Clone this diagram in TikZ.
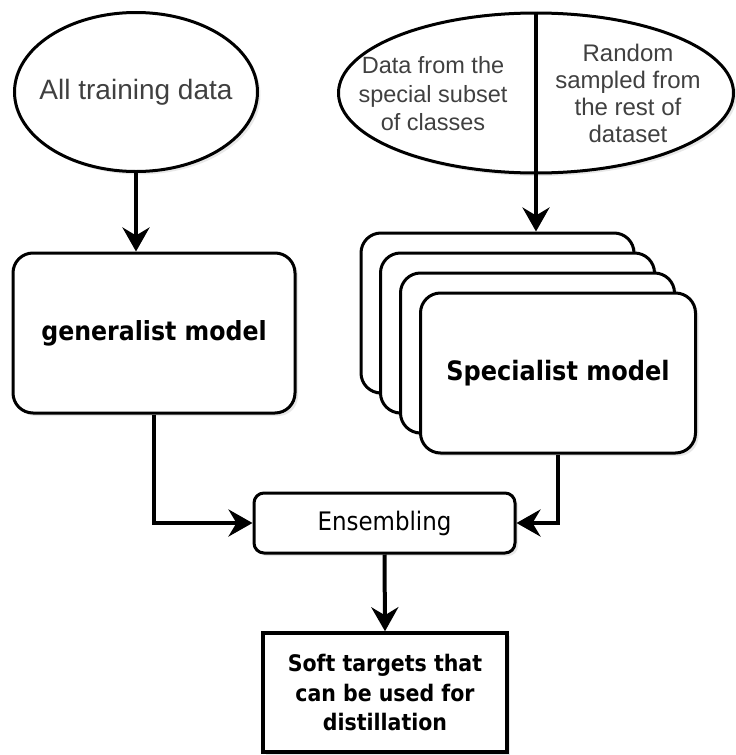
\documentclass[tikz,border=0pt]{standalone}
\usepackage{fontspec}
\setmainfont{Liberation Sans}
\newfontfamily\tahoma{DejaVu Sans Condensed}
\usetikzlibrary{arrows.meta,shapes.geometric,shadows}
\definecolor{txtgray}{HTML}{404040}
\tikzset{
  shad/.style={drop shadow={opacity=0.18,shadow xshift=3pt,shadow yshift=-3pt}},
  ell/.style={ellipse,draw,line width=3pt,fill=white,shad,inner sep=0pt},
  etext/.style={text=txtgray,align=center},
  rbox/.style={rectangle,rounded corners=20pt,draw,line width=3pt,fill=white,shad,align=center,inner sep=0pt},
  sbox/.style={rectangle,draw,line width=3.5pt,fill=white,shad,align=center,inner sep=0pt},
  conn/.style={line width=4pt,-{Stealth[length=24pt,width=27pt,inset=8pt]}},
  plain/.style={line width=4pt}
}
\begin{document}
\begin{tikzpicture}[x=1pt,y=-1pt]
\useasboundingbox (0,0) rectangle (736,755);
% top ellipses
\node[ell,minimum width=243pt,minimum height=159pt] (e1) at (136,92) {};
\node[etext,font=\fontsize{28}{32}\selectfont] (t0) at (e1.center) {All training data};
\node[ell,minimum width=395pt,minimum height=160pt] (e2) at (536,93) {};
\node[etext,font=\fontsize{23.5}{28.5}\selectfont] (t1) at (433,94)
  {Data from the\\special subset\\of classes};
\node[etext,font=\fontsize{24}{27}\selectfont] (t2) at (628,93)
  {Random\\sampled from\\the rest of\\dataset};
% generalist
\node[rbox,minimum width=282pt,minimum height=160pt,font=\tahoma\bfseries\fontsize{26.3}{30}\selectfont] (gen) at (154,333) {generalist model};
% specialist stack
\node[rbox,minimum width=273pt,minimum height=160pt] (s1) at (497.5,313) {};
\node[rbox,minimum width=274pt,minimum height=160pt] (s2) at (517.5,333) {};
\node[rbox,minimum width=274pt,minimum height=160pt] (s3) at (537.5,353) {};
\node[rbox,minimum width=275pt,minimum height=160pt,font=\tahoma\bfseries\fontsize{26.7}{30}\selectfont] (s4) at (558,373) {Specialist model};
% ensembling
\node[rbox,rounded corners=10pt,minimum width=261pt,minimum height=60pt,font=\tahoma\fontsize{25.5}{28}\selectfont] (ens) at (384.5,523) {Ensembling};
% soft targets
\node[sbox,minimum width=244pt,minimum height=119pt,font=\tahoma\bfseries\fontsize{22.8}{29.5}\selectfont] (soft) at (385,692.5)
  {\raisebox{-5pt}{\parbox{240pt}{\centering Soft targets that\\can be used for\\distillation}}};
% connectors
\draw[plain] (e2.north) -- (e2.south);
\draw[conn] (e1.south) -- (e1.south |- gen.north);
\draw[conn] (e2.south) -- (e2.south |- s1.north);
\draw[conn] (gen.south) |- (ens.west);
\draw[conn] (s4.south) |- (ens.east);
\draw[conn] (ens.south) -- (soft.north);
\end{tikzpicture}
\end{document}
